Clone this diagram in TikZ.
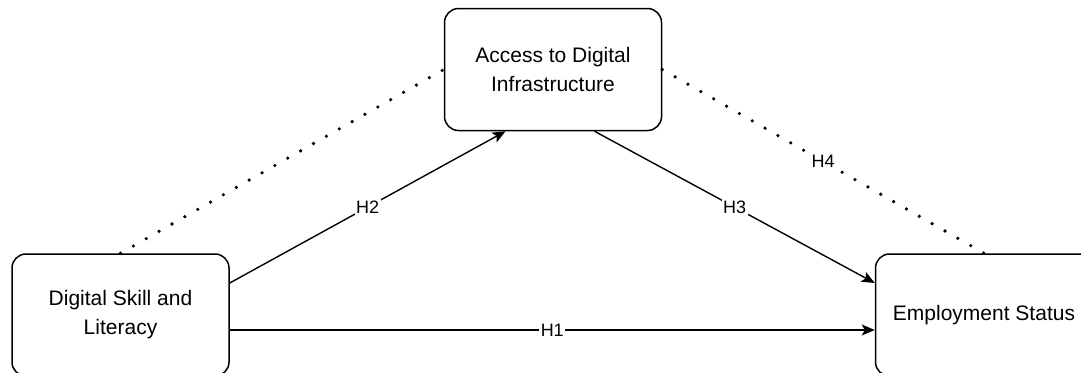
\documentclass[tikz,border=0pt]{standalone}
\usepackage{fontspec}
\setmainfont{Liberation Sans}
\usetikzlibrary{arrows.meta,positioning}

\begin{document}
\begin{tikzpicture}[
  x=1pt,y=-1pt,
  box/.style={draw,rectangle,rounded corners=14pt,minimum width=217pt,minimum height=122pt,
              line width=1.5pt,align=center,font=\fontsize{21}{29}\selectfont},
  hyp/.style={font=\fontsize{18}{20}\selectfont,fill=white,inner sep=1.5pt},
  every edge/.style={draw,line width=1.4pt,-{Stealth[length=13pt,width=11pt,inset=3pt]}},
  dotline/.style={line width=3.6pt,line cap=round,dash pattern=on 0pt off 14.8pt},
]
  \useasboundingbox (0,0) rectangle (1081,372);
  \clip (0,0) rectangle (1081,372);

  % Boxes
  \node[box] (dsl) at (120.5,315) {Digital Skill and\\Literacy};
  \node[box,right=645pt of dsl] (emp) {Employment Status};
  \node[box,above right=122pt and 214pt of dsl] (acc) {Access to Digital\\Infrastructure};

  % Arrows
  \draw ([yshift=-15pt]dsl.east) edge node[hyp]{H1} ([yshift=-15pt]emp.west);
  \draw ([yshift=32pt]dsl.east)  edge node[hyp]{H2} ([xshift=-47.5pt]acc.south);
  \draw ([xshift=41.5pt]acc.south) edge node[hyp]{H3} ([yshift=32pt]emp.west);

  % Dotted links
  \draw[dotline] (dsl.north) -- (acc.west);
  \draw[dotline] (acc.east) -- node[hyp]{H4} (emp.north);
\end{tikzpicture}
\end{document}
